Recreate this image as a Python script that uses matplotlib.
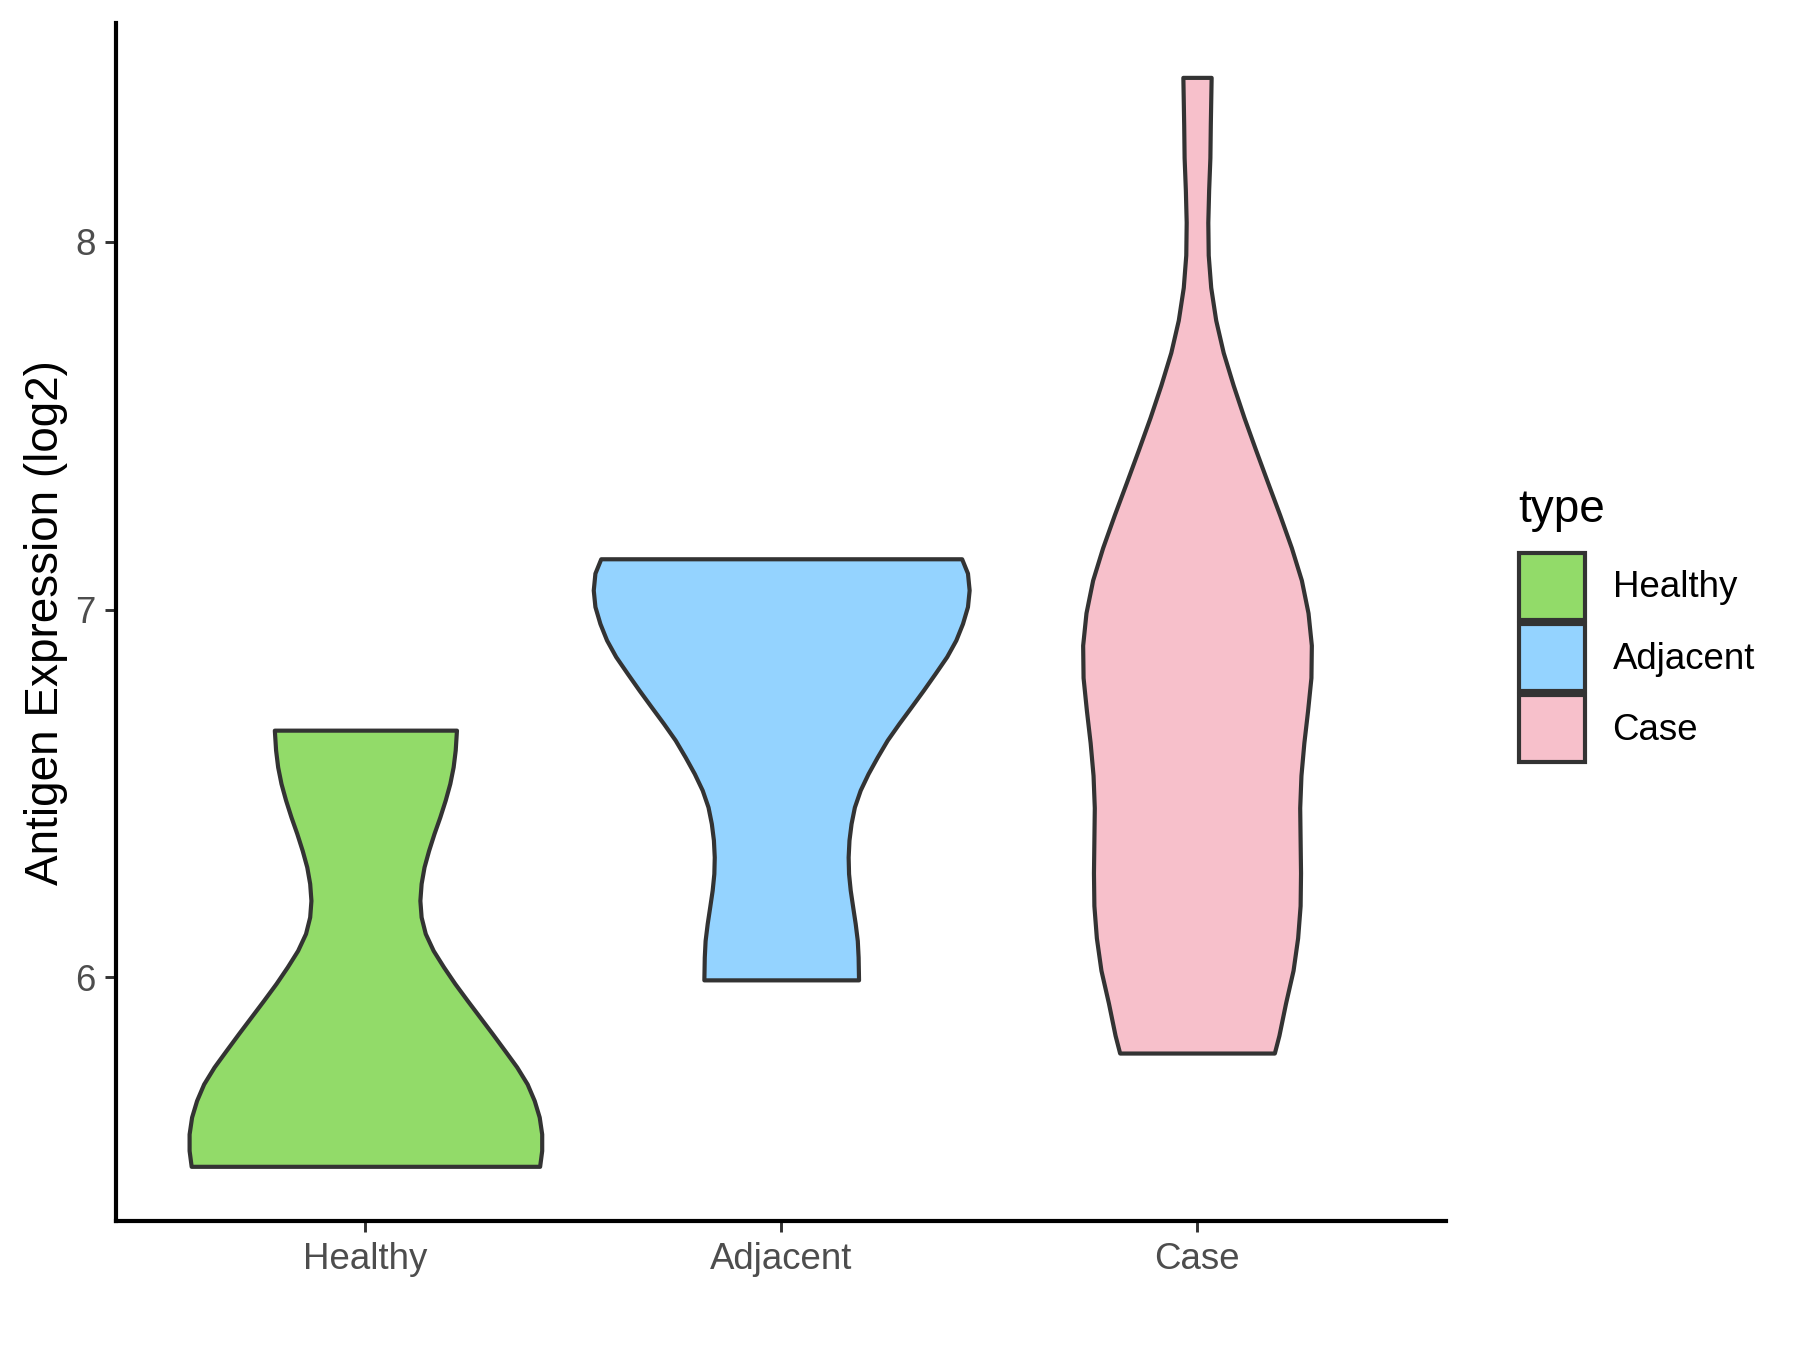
import matplotlib
matplotlib.use("Agg")
import matplotlib.pyplot as plt
from matplotlib.patches import Patch

plt.rcParams['font.family'] = ['Liberation Sans', 'DejaVu Sans']

groups = ['Healthy', 'Adjacent', 'Case']
colors = ['#92DB69', '#94D3FF', '#F7C0CB']

# violin outlines:
# expression value (log2) and half width of the violin (in category units)
healthy_y = [6.672, 6.618, 6.572, 6.527, 6.482, 6.436, 6.391, 6.345, 6.300, 6.255,
             6.209, 6.164, 6.119, 6.073, 6.028, 5.983, 5.937, 5.892, 5.847, 5.801,
             5.756, 5.710, 5.665, 5.620, 5.574, 5.529, 5.486]
healthy_w = [0.219, 0.216, 0.211, 0.203, 0.192, 0.179, 0.165, 0.152, 0.141, 0.134,
             0.131, 0.134, 0.144, 0.163, 0.188, 0.215, 0.245, 0.275, 0.305, 0.335,
             0.364, 0.389, 0.406, 0.418, 0.424, 0.424, 0.419]

adjacent_y = [7.138, 7.099, 7.053, 7.008, 6.962, 6.917, 6.872, 6.826, 6.781, 6.736,
              6.690, 6.645, 6.599, 6.554, 6.509, 6.463, 6.418, 6.373, 6.327, 6.282,
              6.237, 6.191, 6.146, 6.100, 6.055, 5.993]
adjacent_w = [0.434, 0.448, 0.452, 0.448, 0.436, 0.420, 0.398, 0.370, 0.342, 0.313,
              0.283, 0.255, 0.231, 0.209, 0.190, 0.176, 0.168, 0.163, 0.161, 0.162,
              0.166, 0.172, 0.178, 0.183, 0.185, 0.186]

case_y = [8.447, 8.318, 8.229, 8.141, 8.053, 7.964, 7.876, 7.787, 7.699, 7.610,
          7.522, 7.434, 7.345, 7.257, 7.168, 7.080, 6.991, 6.903, 6.815, 6.726,
          6.638, 6.549, 6.461, 6.372, 6.284, 6.195, 6.107, 6.019, 5.930, 5.842, 5.794]
case_w = [0.034, 0.032, 0.031, 0.028, 0.026, 0.027, 0.033, 0.045, 0.063, 0.087,
          0.113, 0.141, 0.170, 0.199, 0.227, 0.251, 0.267, 0.275, 0.274, 0.266,
          0.257, 0.250, 0.247, 0.248, 0.249, 0.248, 0.242, 0.231, 0.213, 0.197, 0.186]

profiles = [(healthy_y, healthy_w), (adjacent_y, adjacent_w), (case_y, case_w)]

fig = plt.figure(figsize=(6, 4.5), dpi=300)
ax = fig.add_axes([0.0644, 0.0952, 0.7392, 0.8878])

for i, (ys, ws) in enumerate(profiles):
    pos = i + 1
    left = [pos - w for w in ws]
    right = [pos + w for w in ws]
    ax.fill_betweenx(ys, left, right, facecolor=colors[i], edgecolor='#333333',
                     linewidth=1.0, joinstyle='round')

ax.set_xlim(0.4, 3.6)
ax.set_ylim(5.336, 8.595)
ax.set_xticks([1, 2, 3])
ax.set_xticklabels(groups)
ax.set_yticks([6, 7, 8])
ax.set_yticklabels(['6', '7', '8'])

for s in ['top', 'right']:
    ax.spines[s].set_visible(False)
for s in ['left', 'bottom']:
    ax.spines[s].set_color('black')
    ax.spines[s].set_linewidth(1.0)

ax.tick_params(length=2.7, width=0.7, color='#333333', labelcolor='#4D4D4D',
               labelsize=8.8, pad=2.2)
ax.set_ylabel('Antigen Expression (log2)', fontsize=11, color='black', labelpad=1.8)

handles = [Patch(facecolor=colors[i], edgecolor='#333333', linewidth=1.0, label=groups[i])
           for i in range(3)]
leg = fig.legend(handles=handles, title='type', loc='center left',
                 bbox_to_anchor=(0.8335, 0.537), frameon=False, fontsize=8.8,
                 title_fontsize=11, handlelength=1.82, handleheight=2.42,
                 labelspacing=0.125, handletextpad=0.74, borderpad=0,
                 alignment='left')
# a bit more room between the legend title and the keys
leg._legend_box.sep = 5.0

fig.savefig('out.png', dpi=300)
